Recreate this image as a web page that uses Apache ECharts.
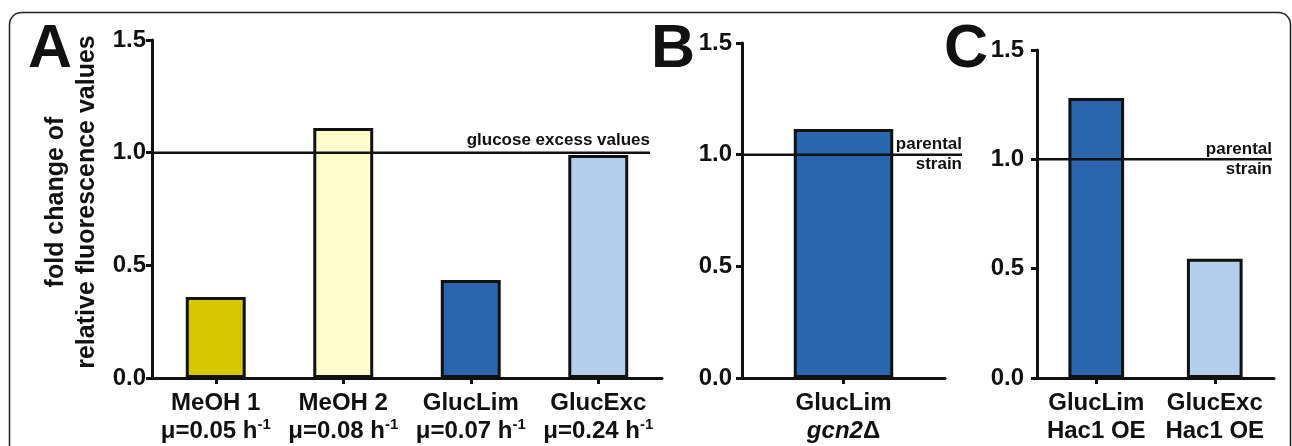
<!DOCTYPE html>
<html><head><meta charset="utf-8">
<script src="https://cdn.jsdelivr.net/npm/echarts@6/dist/echarts.min.js"></script>
<style>html,body{margin:0;padding:0;background:#fff}#c{width:1292px;height:446px}</style>
</head><body><div id="c"></div>
<script>
// ---- data ----
const catsA = ['MeOH 1', 'MeOH 2', 'GlucLim', 'GlucExc'];
const ratesA = ['0.05', '0.08', '0.07', '0.24'];
const valuesA = [0.36, 1.11, 0.435, 0.99];
const colorsA = ['#D4C800', '#FFFDCB', '#2B65AD', '#B5CEEC'];

const catsB = ['GlucLim'];
const subB = ['gcn2'];
const valuesB = [1.115];
const colorsB = ['#2B65AD'];

const catsC = ['GlucLim', 'GlucExc'];
const subC = ['Hac1 OE', 'Hac1 OE'];
const valuesC = [1.28, 0.545];
const colorsC = ['#2B65AD', '#B5CEEC'];

const refValue = 1.0;
const refLabelA = 'glucose excess values';
const refLabelBC = 'parental\nstrain';
const yTicks = [0, 0.5, 1.0, 1.5];
const yTitle = 'fold change of\nrelative fluorescence values';
const panelLetters = ['A', 'B', 'C'];

// ---- layout ----
const FONT = 'Liberation Sans, Arial, sans-serif';
const INK = '#111';
const grids = [
  { left: 152, right: 1292 - 662, top: 40, bottom: 68 },
  { left: 742, right: 1292 - 945, top: 43, bottom: 68 },
  { left: 1037, right: 1292 - 1274, top: 50, bottom: 68 },
  // overlay grids for reference lines
  { left: 152, right: 1292 - 650, top: 40, bottom: 68 },
  { left: 742, right: 1292 - 962, top: 43, bottom: 68 },
  { left: 1037, right: 1292 - 1272, top: 50, bottom: 68 }
];

const richX = {
  b: { fontFamily: FONT, fontSize: 24, fontWeight: 'bold', color: INK, lineHeight: 28 },
  i: { fontFamily: FONT, fontSize: 24, fontWeight: 'bold', fontStyle: 'italic', color: INK, lineHeight: 28 },
  s: { fontFamily: FONT, fontSize: 15, fontWeight: 'bold', color: INK, lineHeight: 15, verticalAlign: 'top' }
};

function catAxis(gridIndex, data, formatter) {
  return {
    type: 'category', gridIndex, data,
    axisLine: { lineStyle: { color: INK, width: 3 } },
    axisTick: { show: true, alignWithLabel: true, length: 6, lineStyle: { color: INK, width: 3 } },
    axisLabel: { margin: 11, interval: 0, formatter, rich: richX }
  };
}
function valAxis(gridIndex, margin, extra) {
  return Object.assign({
    type: 'value', gridIndex, min: yTicks[0], max: yTicks[yTicks.length - 1],
    interval: yTicks[1] - yTicks[0],
    splitLine: { show: false },
    axisLine: { show: true, lineStyle: { color: INK, width: 3 } },
    axisTick: { show: true, length: 6, lineStyle: { color: INK, width: 3 } },
    axisLabel: { margin, fontFamily: FONT, fontSize: 24, fontWeight: 'bold', color: INK,
      formatter: v => v.toFixed(1) }
  }, extra || {});
}
function hiddenX(gridIndex) {
  return { type: 'value', gridIndex, min: 0, max: 1, show: false };
}
function hiddenY(gridIndex) {
  return { type: 'value', gridIndex, min: yTicks[0], max: yTicks[yTicks.length - 1], show: false };
}

function barSeries(idx, values, colors) {
  return {
    type: 'bar', xAxisIndex: idx, yAxisIndex: idx, barWidth: idx === 1 ? '49%' : '47%',
    data: values.map((v, i) => ({ value: v, itemStyle: { color: colors[i] } })),
    itemStyle: { borderColor: INK, borderWidth: 3 },
    silent: true, z: 2
  };
}
function refSeries(idx, label, pos, dist) {
  return {
    type: 'line', xAxisIndex: idx, yAxisIndex: idx,
    data: [[0, refValue], [1, refValue]],
    showSymbol: false, symbol: 'none', silent: true, z: 5,
    lineStyle: { color: INK, width: 2.5 },
    markLine: {
      silent: true, symbol: 'none',
      lineStyle: { color: 'transparent', width: 0 },
      data: [{ yAxis: refValue }],
      label: { show: true, position: pos, distance: dist, formatter: label,
        fontFamily: FONT, fontSize: 17, fontWeight: 'bold', color: INK, lineHeight: 20, align: 'right' }
    }
  };
}

const option = {
  animation: false,
  backgroundColor: '#fff',
  grid: grids,
  xAxis: [
    catAxis(0, catsA, (v, i) => `{b|${v}}\n{b|μ=${ratesA[i]} h}{s|-1}`),
    catAxis(1, catsB, (v, i) => `{b|${v}}\n{i|${subB[i]}}{b|Δ}`),
    catAxis(2, catsC, (v, i) => `{b|${v}}\n{b|${subC[i]}}`),
    hiddenX(3), hiddenX(4), hiddenX(5)
  ],
  yAxis: [
    valAxis(0, 6, { name: yTitle, nameLocation: 'middle', nameRotate: 90, nameGap: 49,
      nameTextStyle: { fontFamily: FONT, fontSize: 25, fontWeight: 'bold', color: INK, lineHeight: 31, padding: [0, 0, 0, 14] } }),
    valAxis(1, 10),
    valAxis(2, 13),
    hiddenY(3), hiddenY(4), hiddenY(5)
  ],
  series: [
    barSeries(0, valuesA, colorsA),
    barSeries(1, valuesB, colorsB),
    barSeries(2, valuesC, colorsC),
    refSeries(3, refLabelA, 'insideEndTop', [0, 2]),
    refSeries(4, refLabelBC, 'insideEnd', [0, 0]),
    refSeries(5, refLabelBC, 'insideEnd', [0, 0])
  ],
  graphic: [
    { type: 'rect', shape: { x: 9.5, y: 12.5, width: 1281, height: 520, r: 12 },
      style: { fill: 'none', stroke: '#222', lineWidth: 1.5 }, silent: true },
    { type: 'text', left: 28, top: 20, style: { text: panelLetters[0], font: 'bold 61px ' + FONT, fill: INK } },
    { type: 'text', left: 651, top: 20, style: { text: panelLetters[1], font: 'bold 61px ' + FONT, fill: INK } },
    { type: 'text', left: 944, top: 20, style: { text: panelLetters[2], font: 'bold 61px ' + FONT, fill: INK } }
  ]
};

const chart = echarts.init(document.getElementById('c'), null, { renderer: 'canvas' });
chart.setOption(option);
</script>
</body></html>
